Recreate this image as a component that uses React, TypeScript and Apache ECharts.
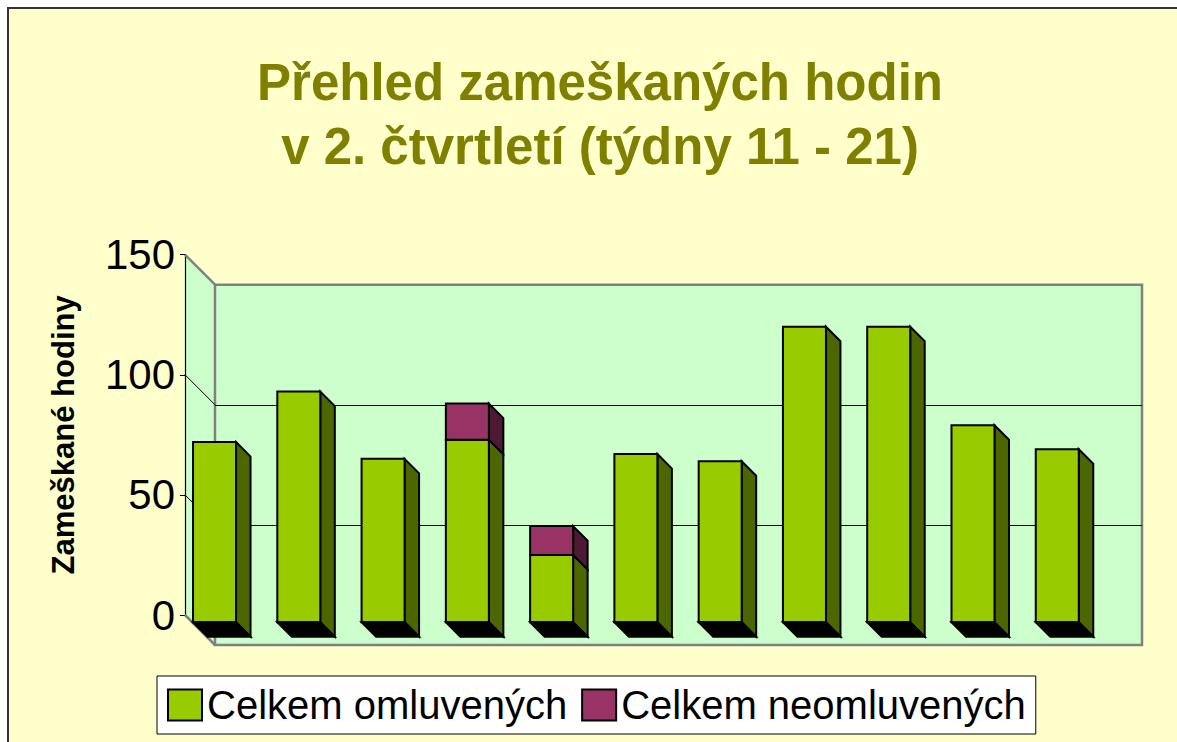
import React, { useEffect, useRef } from "react";
import * as echarts from "echarts";

// ---------- data ----------
const weeks = ["11", "12", "13", "14", "15", "16", "17", "18", "19", "20", "21"];
const excused = [75, 96, 68, 76, 28, 70, 67, 123, 123, 82, 72];
const unexcused = [0, 0, 0, 15, 12, 0, 0, 0, 0, 0, 0];
const yTicks = [0, 50, 100, 150];
const seriesNames = ["Celkem omluvených", "Celkem neomluvených"];
const titleLines = ["Přehled zameškaných hodin", "v 2. čtvrtletí (týdny 11 - 21)"];
const yAxisTitle = "Zameškané hodiny";

// ---------- layout / style ----------
const FONT = "'Liberation Sans', Arial, Helvetica, sans-serif";
const W = 1177;
const H = 742;
const FRONT_LEFT = 185;
const FRONT_TOP = 254.7;
const FRONT_BOTTOM = 615;
const PLOT_W = 927;
const WALL_D = 30; // back wall offset
const BAR_FRONT = 7.2; // depth of bar front face
const BAR_DEPTH = 14.5;
const BAR_HALF = 21.5;
const BAR_SHIFT = -19.8;
const Y_MAX = 150;

const GREEN = "#99CC00";
const GREEN_SIDE = "#4C6600";
const PURPLE = "#993366";
const PURPLE_SIDE = "#4D1A33";
const WALL = "#CCFFCC";
const BG = "#FFFFCC";

const yFront = (v: number) => FRONT_BOTTOM - (v * (FRONT_BOTTOM - FRONT_TOP)) / Y_MAX;

function makeRender(fill: string, side: string) {
  return (params: any, api: any) => {
    const i = api.value(0);
    const lo = api.value(1);
    const hi = api.value(2);
    const a = api.coord([i, lo]);
    const b = api.coord([i, hi]);
    const xl = a[0] - BAR_HALF + BAR_FRONT;
    const xr = a[0] + BAR_HALF + BAR_FRONT;
    const yb = a[1] + BAR_FRONT;
    const yt = b[1] + BAR_FRONT;
    const d = BAR_DEPTH;
    const st = { stroke: "#000", lineWidth: 2, lineJoin: "miter" };
    const children: any[] = [
      {
        type: "polygon",
        shape: { points: [[xr, yt], [xr + d, yt + d], [xr + d, yb + d], [xr, yb]] },
        style: { ...st, fill: side },
      },
      {
        type: "rect",
        shape: { x: xl, y: yt, width: xr - xl, height: yb - yt },
        style: { ...st, fill },
      },
    ];
    if (lo === 0) {
      children.push({
        type: "polygon",
        shape: { points: [[xl, yb], [xr, yb], [xr + d, yb + d], [xl + d, yb + d]] },
        style: { ...st, fill: "#000" },
      });
    }
    return { type: "group", children };
  };
}

export default function App() {
  const ref = useRef<HTMLDivElement>(null);

  useEffect(() => {
    if (!ref.current) return;
    const chart = echarts.init(ref.current, undefined, { renderer: "svg" });

    const excusedData = excused.map((v, i) => [i, 0, v]);
    const unexcusedData = unexcused
      .map((v, i) => [i, excused[i], excused[i] + v, v])
      .filter((d) => d[3] > 0)
      .map((d) => [d[0], d[1], d[2]]);

    const innerTicks = yTicks.filter((t) => t > 0 && t < Y_MAX);

    const graphic: any[] = [
      {
        type: "rect",
        z: -10,
        shape: { x: 8, y: 8, width: 1400, height: 1000 },
        style: { fill: BG, stroke: "#333", lineWidth: 2 },
      },
      {
        type: "polygon",
        z: -1,
        shape: {
          points: [
            [FRONT_LEFT, yFront(Y_MAX)],
            [FRONT_LEFT + WALL_D, yFront(Y_MAX) + WALL_D],
            [FRONT_LEFT + WALL_D, yFront(0) + WALL_D],
            [FRONT_LEFT, yFront(0)],
          ],
        },
        style: { fill: WALL },
      },
      {
        type: "line",
        z: 1,
        shape: { x1: FRONT_LEFT, y1: yFront(Y_MAX), x2: FRONT_LEFT + WALL_D, y2: yFront(Y_MAX) + WALL_D },
        style: { stroke: "#808080", lineWidth: 2.5 },
      },
      {
        type: "line",
        z: 1,
        shape: { x1: FRONT_LEFT, y1: yFront(0), x2: FRONT_LEFT + WALL_D, y2: yFront(0) + WALL_D },
        style: { stroke: "#808080", lineWidth: 2.5 },
      },
      ...innerTicks.map((t) => ({
        type: "line",
        z: 1,
        shape: { x1: FRONT_LEFT, y1: yFront(t), x2: FRONT_LEFT + WALL_D, y2: yFront(t) + WALL_D },
        style: { stroke: "#000", lineWidth: 1 },
      })),
    ];

    const option: any = {
      animation: false,
      backgroundColor: "#fff",
      title: {
        text: titleLines.join("\n"),
        left: 595,
        top: 45,
        textAlign: "center",
        textStyle: {
          fontSize: 51,
          lineHeight: 64,
          fontWeight: "bold",
          color: "#808000",
          fontFamily: FONT,
        },
      },
      legend: {
        left: 157,
        top: 676,
        padding: [9, 10],
        itemGap: 14,
        itemWidth: 34,
        itemHeight: 31,
        backgroundColor: "#fff",
        borderColor: "#000",
        borderWidth: 1,
        textStyle: { fontSize: 40, color: "#000", fontFamily: FONT },
        data: [
          { name: seriesNames[0], icon: "rect", itemStyle: { color: GREEN, borderColor: "#000", borderWidth: 2 } },
          { name: seriesNames[1], icon: "rect", itemStyle: { color: PURPLE, borderColor: "#000", borderWidth: 2 } },
        ],
      },
      graphic,
      grid: [
        // front plane (value axis)
        { left: FRONT_LEFT, top: FRONT_TOP, width: PLOT_W, bottom: H - FRONT_BOTTOM },
        // bars plane
        { left: FRONT_LEFT + BAR_SHIFT, top: FRONT_TOP, width: PLOT_W, bottom: H - FRONT_BOTTOM },
        // back wall
        {
          left: FRONT_LEFT + WALL_D,
          top: FRONT_TOP + WALL_D,
          width: PLOT_W,
          bottom: H - FRONT_BOTTOM - WALL_D,
          show: true,
          backgroundColor: WALL,
          borderColor: "#808080",
          borderWidth: 2.5,
        },
      ],
      xAxis: [
        { gridIndex: 0, type: "category", data: weeks, show: false },
        { gridIndex: 1, type: "category", data: weeks, show: false },
        { gridIndex: 2, type: "category", data: weeks, show: false },
      ],
      yAxis: [
        {
          gridIndex: 0,
          type: "value",
          min: 0,
          max: Y_MAX,
          interval: 50,
          name: yAxisTitle,
          nameLocation: "middle",
          nameRotate: 90,
          nameGap: 106,
          nameTextStyle: { fontSize: 31, fontWeight: "bold", color: "#000", fontFamily: FONT },
          axisLine: { show: true, lineStyle: { color: "#000", width: 1.2 } },
          axisTick: { show: true, length: 5, lineStyle: { color: "#000", width: 1 } },
          axisLabel: { fontSize: 42, color: "#000", margin: 10, fontFamily: FONT },
          splitLine: { show: false },
        },
        {
          gridIndex: 1,
          type: "value",
          min: 0,
          max: Y_MAX,
          show: false,
          splitLine: { show: false },
        },
        {
          gridIndex: 2,
          type: "value",
          min: 0,
          max: Y_MAX,
          interval: 50,
          axisLine: { show: false },
          axisTick: { show: false },
          axisLabel: { show: false },
          splitLine: {
            show: true,
            showMinLine: false,
            showMaxLine: false,
            lineStyle: { color: "#000", width: 1 },
          },
        },
      ],
      series: [
        {
          name: seriesNames[0],
          type: "custom",
          xAxisIndex: 1,
          yAxisIndex: 1,
          z: 5,
          itemStyle: { color: GREEN },
          encode: { x: 0, y: [1, 2] },
          renderItem: makeRender(GREEN, GREEN_SIDE),
          data: excusedData,
        },
        {
          name: seriesNames[1],
          type: "custom",
          xAxisIndex: 1,
          yAxisIndex: 1,
          z: 6,
          itemStyle: { color: PURPLE },
          encode: { x: 0, y: [1, 2] },
          renderItem: makeRender(PURPLE, PURPLE_SIDE),
          data: unexcusedData,
        },
      ],
    };

    chart.setOption(option);
    return () => chart.dispose();
  }, []);

  return (
    <div
      ref={ref}
      style={{ position: "fixed", left: 0, top: 0, width: W, height: H, background: "#fff" }}
    />
  );
}
